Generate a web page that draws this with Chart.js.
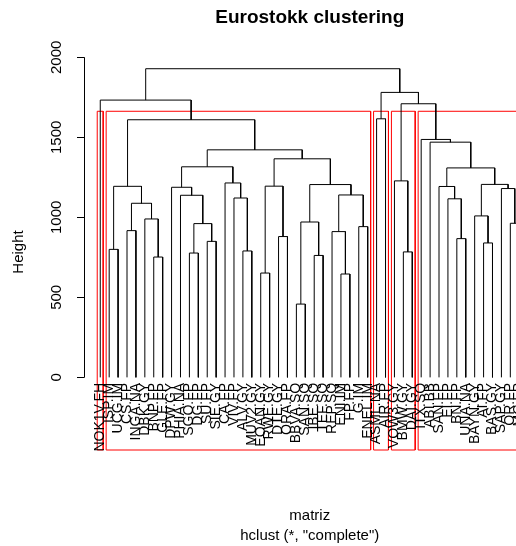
<!DOCTYPE html>
<html>
<head>
<meta charset="utf-8">
<script src="https://cdn.jsdelivr.net/npm/chart.js@4"></script>
<style>
  html, body { margin: 0; padding: 0; background: #fff; }
  #wrap { width: 516px; height: 546px; overflow: hidden; }
  canvas { display: block; }
</style>
</head>
<body>
<div id="wrap"><canvas id="dendro" width="560" height="546"></canvas></div>
<script>
// leaves in plotting order
const leafLabels = [
  'NOK1V.FH', 'ISP.IM', 'UCG.IM', 'CS.FP', 'INGA.NA', 'DBK.GY', 'BNP.FP', 'GLE.FP',
  'DPW.GY', 'PHIA.NA', 'SGO.FP', 'DG.FP', 'SU.FP', 'SIE.GY', 'CA.FP', 'VIV.FP',
  'ALV.GY', 'MUV2.GY', 'EOAN.GY', 'RWE.GY', 'DTE.GY', 'ORA.FP', 'BBVA.SQ', 'SAN.SQ',
  'IBE.SQ', 'TEF.SQ', 'REP.SQ', 'ENI.IM', 'FP.FP', 'G.IM', 'ENEL.IM', 'ASML.NA',
  'AIR.FP', 'VOW3.GY', 'BMW.GY', 'DAI.GY', 'ITX.SQ', 'ABI.BB', 'SAN.FP', 'EI.FP',
  'BN.FP', 'UNA.NA', 'BAYN.GY', 'AI.FP', 'BAS.GY', 'SAP.GY', 'OR.FP', 'MC.FP'
];

// hclust style merge table: negative = leaf number, positive = earlier merge
const mergeLeft  = [-23, -28, -19, -7, -25, -11, -35, -17, -2, -44, -13, -41, -21, -27, -4, -30,
                    6, -47, 1, -6, -43, 15, -40, -16, -10, 14, -46, -9, -39, 9, 3, 19,
                    21, -15, -34, 29, 28, 31, 37, -38, -37, 30, -32, 35, -1, 43, 45];
const mergeRight = [-24, -29, -20, -8, -26, -12, -36, -18, -3, -45, -14, -42, -22, 2, -5, -31,
                    11, -48, 5, 4, 10, 20, 12, 8, 17, 16, 18, 25, 23, 22, 13, 26,
                    27, 24, 7, 33, 34, 32, 38, 36, 40, 39, -33, 41, 42, 44, 46];
const mergeHeight = [458, 646, 652, 752, 762, 777, 784, 790, 800, 840, 850, 867, 880, 911, 917, 942,
                     961, 963, 971, 990, 1009, 1088, 1116, 1121, 1138, 1140, 1180, 1188, 1193, 1194, 1195, 1205,
                     1206, 1215, 1228, 1309, 1316, 1366, 1422, 1470, 1487, 1610, 1616, 1710, 1733, 1781, 1929];

const yTicks = [0, 500, 1000, 1500, 2000];
const nClusters = 5;

const fontFam = '"Liberation Sans", Arial, Helvetica, sans-serif';
const nLeaves = leafLabels.length;

// x of every merge = midpoint of its children
const mergeX = [];
function nodeX(i) { return i < 0 ? -i : mergeX[i - 1]; }
function nodeH(i) { return i < 0 ? 0 : mergeHeight[i - 1]; }
for (let m = 0; m < mergeHeight.length; m++) {
  mergeX.push((nodeX(mergeLeft[m]) + nodeX(mergeRight[m])) / 2);
}

const treePts = [];
for (let m = 0; m < mergeHeight.length; m++) {
  const a = mergeLeft[m], b = mergeRight[m], h = mergeHeight[m];
  treePts.push({x: nodeX(a), y: nodeH(a)}, {x: nodeX(a), y: h},
               {x: nodeX(b), y: h}, {x: nodeX(b), y: nodeH(b)}, {x: nodeX(b), y: null});
}

// rect.hclust: split the highest merges until k groups
function leafRange(i) {
  if (i < 0) return [-i, -i];
  const l = leafRange(mergeLeft[i - 1]), r = leafRange(mergeRight[i - 1]);
  return [Math.min(l[0], r[0]), Math.max(l[1], r[1])];
}
let groups = [mergeHeight.length];
while (groups.length < nClusters) {
  let best = -1;
  groups.forEach((g, j) => { if (g > 0 && (best < 0 || nodeH(g) > nodeH(groups[best]))) best = j; });
  const g = groups[best];
  groups.splice(best, 1, mergeLeft[g - 1], mergeRight[g - 1]);
}
const sortedH = mergeHeight.slice().sort((p, q) => q - p);
const rectTop = (sortedH[nClusters - 2] + sortedH[nClusters - 1]) / 2;
const yMin = -454, yMax = 2021;
const rectPts = [];
groups.forEach(g => {
  const r = leafRange(g);
  const x0 = r[0] - 0.34, x1 = r[1] + 0.33;
  rectPts.push({x: x0, y: yMin}, {x: x0, y: rectTop}, {x: x1, y: rectTop},
               {x: x1, y: yMin}, {x: x0, y: yMin}, {x: x0, y: null});
});

const extras = {
  id: 'extras',
  afterDraw(chart) {
    const ctx = chart.ctx, xs = chart.scales.x, ys = chart.scales.y, area = chart.chartArea;
    const cx = (area.left + area.right) / 2;
    ctx.save();
    ctx.fillStyle = '#000';
    ctx.textAlign = 'center';
    ctx.textBaseline = 'middle';
    ctx.font = 'bold 19px ' + fontFam;
    ctx.fillText('Eurostokk clustering', cx, 18);
    ctx.font = '15px ' + fontFam;
    ctx.fillText('matriz', cx, 516);
    ctx.fillText('hclust (*, "complete")', cx, 536);

    // y axis
    ctx.strokeStyle = '#000';
    ctx.lineWidth = 1;
    const ax = Math.round(area.left) + 0.5;
    ctx.beginPath();
    ctx.moveTo(ax, ys.getPixelForValue(yTicks[0]));
    ctx.lineTo(ax, ys.getPixelForValue(yTicks[yTicks.length - 1]));
    yTicks.forEach(t => {
      const py = Math.round(ys.getPixelForValue(t)) + 0.5;
      ctx.moveTo(ax, py);
      ctx.lineTo(ax - 7.5, py);
    });
    ctx.stroke();
    yTicks.forEach(t => {
      ctx.save();
      ctx.translate(57, ys.getPixelForValue(t));
      ctx.rotate(-Math.PI / 2);
      ctx.fillText(String(t), 0, 0);
      ctx.restore();
    });
    ctx.save();
    ctx.translate(19, (area.top + area.bottom) / 2);
    ctx.rotate(-Math.PI / 2);
    ctx.fillText('Height', 0, 0);
    ctx.restore();

    // leaf labels
    ctx.font = '14px ' + fontFam;
    ctx.textAlign = 'right';
    const ly = ys.getPixelForValue(0) + 5.5;
    leafLabels.forEach((lab, i) => {
      ctx.save();
      ctx.translate(xs.getPixelForValue(i + 1), ly);
      ctx.rotate(-Math.PI / 2);
      ctx.fillText(lab, 0, 0);
      ctx.restore();
    });
    ctx.restore();
  }
};

new Chart(document.getElementById('dendro'), {
  type: 'scatter',
  data: {
    datasets: [
      { data: treePts, showLine: true, borderColor: '#000', borderWidth: 1, pointRadius: 0, spanGaps: false, clip: false },
      { data: rectPts, showLine: true, borderColor: '#ff0000', borderWidth: 1, pointRadius: 0, spanGaps: false, clip: false }
    ]
  },
  options: {
    responsive: false,
    animation: false,
    devicePixelRatio: 1,
    layout: { padding: { left: 83.5, right: 24, top: 54, bottom: 96 } },
    scales: {
      x: { type: 'linear', min: 1 - 0.04 * (nLeaves - 1), max: nLeaves + 0.04 * (nLeaves - 1), display: false },
      y: { min: yMin, max: yMax, display: false }
    },
    plugins: { legend: { display: false }, tooltip: { enabled: false } },
    events: []
  },
  plugins: [extras]
});
</script>
</body>
</html>
